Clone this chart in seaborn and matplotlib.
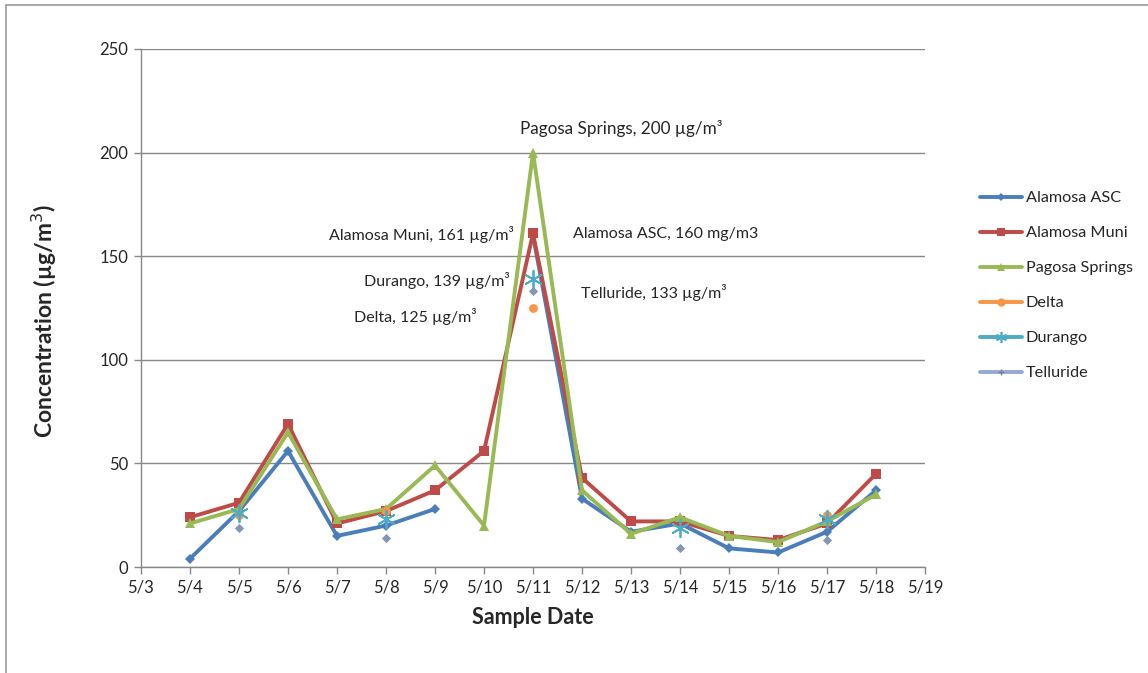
import numpy as np
import pandas as pd
import seaborn as sns
import matplotlib
matplotlib.use('Agg')
import matplotlib.pyplot as plt
from matplotlib.lines import Line2D

# sample days in May
days = [4, 5, 6, 7, 8, 9, 10, 11, 12, 13, 14, 15, 16, 17, 18]
alamosa_asc = [4, 27, 56, 15, 20, 28, np.nan, 160, 33, 17, 21, 9, 7, 17, 37]
alamosa_muni = [24, 31, 69, 21, 27, 37, 56, 161, 43, 22, 22, 15, 13, 21, 45]
pagosa = [21, 28, 65, 23, 28, 49, 20, 200, 37, 16, 24, 15, 12, 22, 35]

# sparse sites (only some days)
delta_days = [5, 8, 11, 17]
delta = [25, 27, 125, 25]
durango_days = [5, 8, 11, 14, 17]
durango = [26, 23, 139, 19, 23]
telluride_days = [5, 8, 11, 14, 17]
telluride = [19, 14, 133, 9, 13]

xticks = list(range(3, 20))
xlabels = [f"5/{d}" for d in xticks]

sns.set_style('white')
plt.rcParams['font.family'] = ['Lato', 'DejaVu Sans']

fig = plt.figure(figsize=(11.48, 6.73), dpi=100)
ax = fig.add_axes([0.1228, 0.1575, 0.683, 0.7697])

# line series, split blue at its gap so it isn't joined
asc = pd.DataFrame({'day': days, 'val': alamosa_asc})
asc['seg'] = asc['val'].isna().cumsum()
asc = asc.dropna()
for _, seg in asc.groupby('seg'):
    sns.lineplot(data=seg, x='day', y='val', ax=ax, color='#4a7ebb', lw=2.8,
                 marker='D', markersize=5, markeredgewidth=0)
sns.lineplot(x=days, y=alamosa_muni, ax=ax, color='#be4b48', lw=2.8,
             marker='s', markersize=7, markeredgewidth=0)
sns.lineplot(x=days, y=pagosa, ax=ax, color='#98b954', lw=2.8,
             marker='^', markersize=7, markeredgewidth=0)

sns.scatterplot(x=delta_days, y=delta, ax=ax, color='#f79646', s=40,
                marker='o', linewidth=0, zorder=4)
sns.scatterplot(x=durango_days, y=durango, ax=ax, color='#4bacc6', s=160,
                marker=(6, 2, 0), linewidth=1.3, zorder=4)
sns.scatterplot(x=telluride_days, y=telluride, ax=ax, color='#8496b8', s=22,
                marker='D', linewidth=0, zorder=4)

ax.set_xlim(3, 19)
ax.set_ylim(0, 250)
ax.set_xticks(xticks)
ax.set_xticklabels(xlabels)
ax.set_yticks(range(0, 251, 50))
ax.tick_params(axis='both', labelsize=12, length=5, width=1, color='#888888',
               direction='out', bottom=True, left=True, pad=4)
ax.grid(axis='y', color='#888888', lw=1)
ax.set_axisbelow(True)
for s in ['top', 'right']:
    ax.spines[s].set_visible(False)
for s in ['left', 'bottom']:
    ax.spines[s].set_color('#888888')
    ax.spines[s].set_linewidth(1)

ax.set_xlabel('Sample Date', fontsize=15.5, fontweight='bold', labelpad=8)
ax.set_ylabel('Concentration (µg/m$^3$)', fontsize=16.5, fontweight='bold')
ax.yaxis.set_label_coords(-0.104, 0.475)

# annotations of the 5/11 peak
fs = 11.5
ax.text(12.8, 211.5, 'Pagosa Springs, 200 µg/m³', fontsize=12.3, ha='center', va='center')
ax.text(10.61, 160.5, 'Alamosa Muni, 161 µg/m³', fontsize=fs, ha='right', va='center')
ax.text(11.82, 160.5, 'Alamosa ASC, 160 mg/m3', fontsize=fs, ha='left', va='center')
ax.text(10.53, 138.5, 'Durango, 139 µg/m³', fontsize=fs, ha='right', va='center')
ax.text(11.98, 132.5, 'Telluride, 133 µg/m³', fontsize=fs, ha='left', va='center')
ax.text(9.84, 121, 'Delta, 125 µg/m³', fontsize=fs, ha='right', va='center')

handles = [
    Line2D([], [], color='#4a7ebb', lw=2.8, marker='D', markersize=4, markeredgewidth=0),
    Line2D([], [], color='#be4b48', lw=2.8, marker='s', markersize=6, markeredgewidth=0),
    Line2D([], [], color='#98b954', lw=2.8, marker='^', markersize=6, markeredgewidth=0),
    Line2D([], [], color='#f79646', lw=2.8, marker='o', markersize=6, markeredgewidth=0),
    Line2D([], [], color='#4bacc6', lw=2.8, marker=(6, 2, 0), markersize=8,
           markeredgewidth=1.2, markerfacecolor='none'),
    Line2D([], [], color='#95a9d6', lw=2.8, marker='+', markersize=5,
           markeredgecolor='#7f7f7f', markeredgewidth=1),
]
labels = ['Alamosa ASC', 'Alamosa Muni', 'Pagosa Springs', 'Delta', 'Durango', 'Telluride']
fig.legend(handles, labels, loc='upper left', bbox_to_anchor=(0.841, 0.738),
           frameon=False, fontsize=11.7, handlelength=2.6, handletextpad=0.2,
           labelspacing=1.27)

# chart frame (top and left edges visible)
fig.add_artist(Line2D([6 / 1148, 6 / 1148], [0, 1 - 5 / 673], color='#999999', lw=1.2,
                      transform=fig.transFigure))
fig.add_artist(Line2D([6 / 1148, 1], [1 - 5 / 673, 1 - 5 / 673], color='#999999', lw=1.2,
                      transform=fig.transFigure))

fig.savefig('out.png', dpi=100)
